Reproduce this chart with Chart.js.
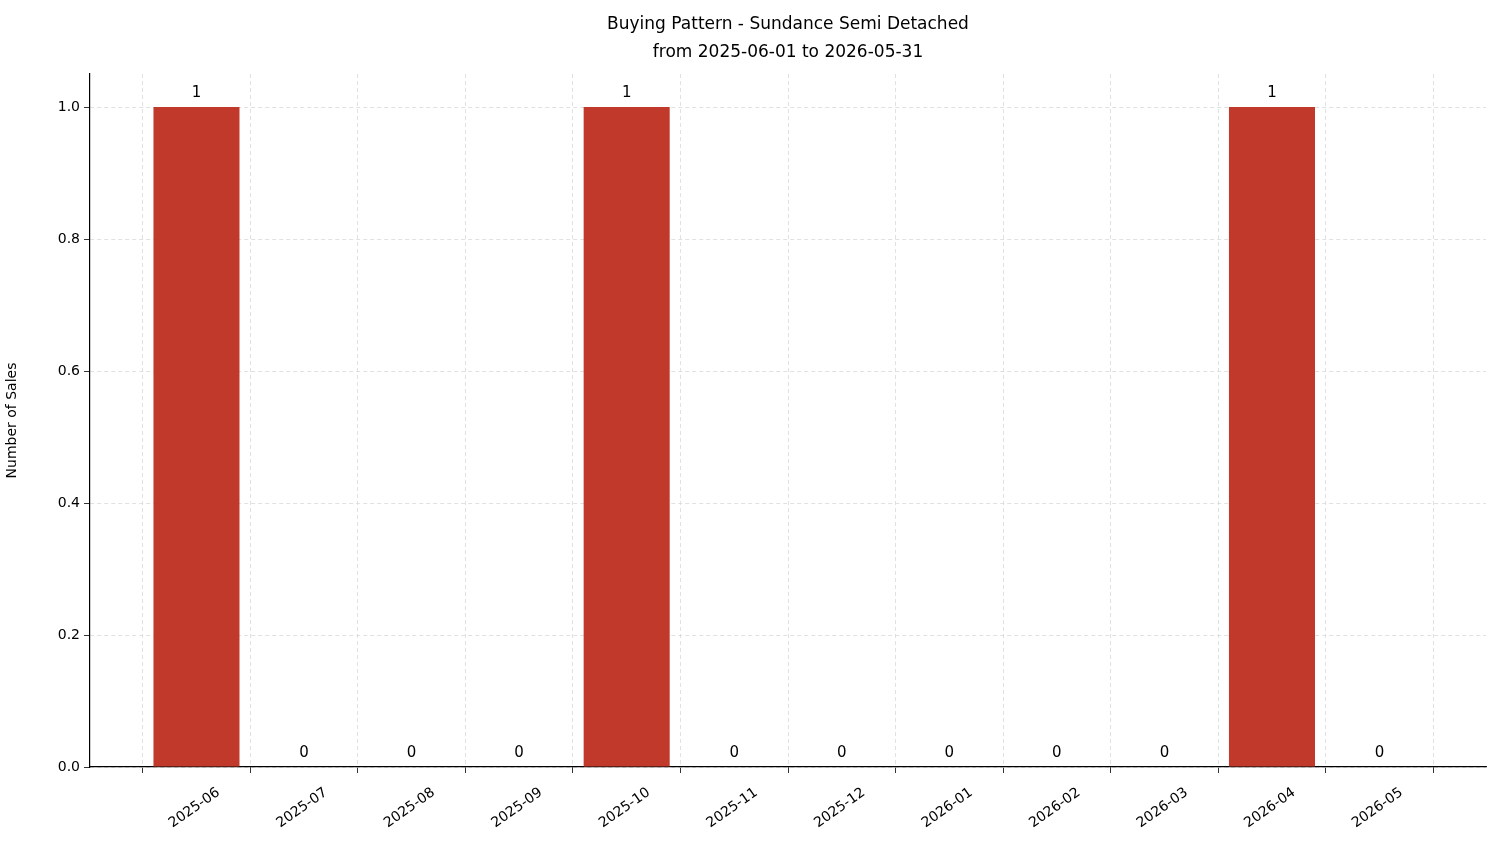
<!DOCTYPE html>
<html><head><meta charset="utf-8">
<script src="https://cdn.jsdelivr.net/npm/chart.js@4.4.0/dist/chart.umd.min.js"></script>
<style>html,body{margin:0;padding:0;background:#fff}#w{width:1501px;height:863px}</style>
</head><body><div id="w"><canvas id="c"></canvas></div>
<script>
const categories=["2025-06","2025-07","2025-08","2025-09","2025-10","2025-11","2025-12","2026-01","2026-02","2026-03","2026-04","2026-05"];
const sales=[1,0,0,0,1,0,0,0,0,0,1,0];
const yTicks=[0,0.2,0.4,0.6,0.8,1.0];
const titleLines=["Buying Pattern - Sundance Semi Detached","from 2025-06-01 to 2026-05-31"];
const F="'DejaVu Sans', sans-serif";
const deco={id:'deco',afterDraw(ch){
  const c=ch.ctx,x=ch.scales.x,y=ch.scales.y;
  c.save();c.fillStyle='#000';
  c.font='17px '+F;c.textAlign='center';c.textBaseline='middle';
  c.fillText(titleLines[0],788,25);c.fillText(titleLines[1],788,53);
  c.font='15px '+F;c.textBaseline='bottom';
  sales.forEach((v,i)=>c.fillText(String(v),x.getPixelForValue(i),y.getPixelForValue(v)-6));
  c.font='14px '+F;
  categories.forEach((t,i)=>{c.save();c.translate(x.getPixelForValue(i)-2,808);c.rotate(-35*Math.PI/180);c.textAlign='center';c.textBaseline='middle';c.fillText(t,0,0);c.restore();});
  c.restore();
}};
new Chart(document.getElementById('c'),{
  type:'bar',
  data:{datasets:[{data:sales.map((v,i)=>({x:i,y:v})),backgroundColor:'#c0392b',barPercentage:0.8,categoryPercentage:1}]},
  options:{responsive:true,maintainAspectRatio:false,animation:false,
    layout:{padding:{top:74,right:15,left:0,bottom:0}},
    plugins:{legend:{display:false},tooltip:{enabled:false}},
    scales:{
      x:{type:'linear',min:-0.99,max:11.99,offset:false,
        afterBuildTicks(s){s.ticks=categories.map((_,i)=>({value:i}));},
        afterFit(s){s.height=96;},
        ticks:{display:false},
        grid:{color:'#d9d9d9',lineWidth:0.8,tickLength:6,tickColor:'#000',drawOnChartArea:true},
        border:{color:'#000',width:1.2,dash:[4,3]}},
      y:{min:0,max:1.05,
        afterBuildTicks(s){s.ticks=yTicks.map(v=>({value:v}));},
        afterFit(s){s.width=90;},
        ticks:{color:'#000',font:{size:14,family:F},callback:v=>Number(v).toFixed(1),padding:4},
        title:{display:true,text:'Number of Sales',color:'#000',font:{size:14,family:F},padding:{bottom:14}},
        grid:{color:'#d9d9d9',lineWidth:0.8,tickLength:6,tickColor:'#000'},
        border:{color:'#000',width:1.2,dash:[4,3]}}
    }},
  plugins:[deco]
});
</script></body></html>
